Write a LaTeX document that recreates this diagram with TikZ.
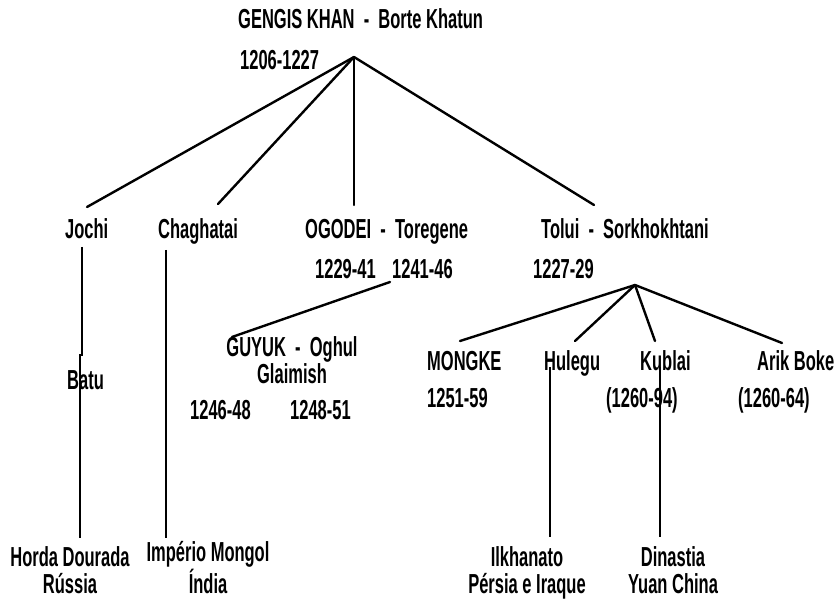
\documentclass[tikz,border=0pt]{standalone}
\usepackage{fontspec}
\setmainfont{Liberation Sans}[FakeStretch=0.6]

\tikzset{
	person/.style={anchor=base west, inner sep=0pt, font=\fontsize{27.5}{27}\selectfont\bfseries},
	realm/.style={anchor=base, inner sep=0pt, align=center, font=\fontsize{27.5}{27}\selectfont\bfseries},
	branch/.style={line width=2.4pt, line cap=round, line join=miter},
}

\begin{document}
\begin{tikzpicture}[x=1pt, y=-1pt]
		\useasboundingbox (0,0) rectangle (840,601);
		% first generation
		\node[person] (gengis) at (238,29) {GENGIS KHAN~~-~~Borte Khatun};
		\node[person] (gengisd) at (240,70) {1206-1227};
		\coordinate (top) at (354,57);
		% sons
		\node[person] (jochi) at (65,239) {Jochi};
		\node[person] (chag) at (158,239) {Chaghatai};
		\node[person] (ogodei) at (305,239) {OGODEI~~-~~Toregene};
		\node[person] (tolui) at (541,239) {Tolui~~-~~Sorkhokhtani};
		\node[person] (ogodeid) at (315,279) {1229-41};
		\node[person] (toregd) at (392,279) {1241-46};
		\node[person] (toluid) at (533,279) {1227-29};
		\coordinate (jochi-in) at (87,207);
		\coordinate (chag-in) at (218,204);
		\coordinate (ogodei-in) at (354,205);
		\coordinate (tolui-in) at (594,205);
		\draw[branch] (top) -- (jochi-in);
		\draw[branch] (top) -- (chag-in);
		\draw[branch] (top) -- (ogodei-in);
		\draw[branch] (top) -- (tolui-in);
		% grandsons
		\node[person] (batu) at (67,389) {Batu};
		\node[realm] (guyuk) at (292,383) {GUYUK~~-~~Oghul\\Glaimish};
		\node[person] (guyukd) at (190,419) {1246-48};
		\node[person] (oghuld) at (290,419) {1248-51};
		\coordinate (ogodei-out) at (390,282);
		\coordinate (guyuk-in) at (232,337);
		\draw[branch] (ogodei-out) -- (guyuk-in);
		\node[person] (mongke) at (427,370) {MONGKE};
		\node[person] (hulegu) at (544,370) {Hulegu};
		\node[person] (kublai) at (640,370) {Kublai};
		\node[person] (arik) at (757,370) {Arik Boke};
		\node[person] (mongked) at (427,407) {1251-59};
		\node[person] (kublaid) at (606,407) {(1260-94)};
		\node[person] (arikd) at (738,407) {(1260-64)};
		\coordinate (tolui-out) at (635,285);
		\coordinate (mongke-in) at (460,341);
		\coordinate (hulegu-in) at (575,341);
		\coordinate (kublai-in) at (655,341);
		\coordinate (arik-in) at (782,343);
		\draw[branch] (tolui-out) -- (mongke-in);
		\draw[branch] (tolui-out) -- (hulegu-in);
		\draw[branch] (tolui-out) -- (kublai-in);
		\draw[branch] (tolui-out) -- (arik-in);
		% khanates
		\node[realm] (horda) at (70,593) {Horda Dourada\\Rússia};
		\node[realm] (imperio) at (208,593) {Império Mongol\\Índia};
		\node[realm] (ilkhan) at (527,593) {Ilkhanato\\Pérsia e Iraque};
		\node[realm] (yuan) at (673,593) {Dinastia\\Yuan China};
		\coordinate (jochi-out) at (82,247);
		\coordinate (horda-in) at (80,538);
		\coordinate (chag-out) at (166,250);
		\coordinate (imperio-in) at (166,538);
		\coordinate (hulegu-out) at (550,367);
		\coordinate (ilkhan-in) at (550,537);
		\coordinate (kublai-out) at (660,367);
		\coordinate (yuan-in) at (660,537);
		\draw[branch, line cap=butt] (jochi-out) -- (82,355) -- (80,355) -- (horda-in);
		\draw[branch, line cap=butt] (chag-out) -- (imperio-in);
		\draw[branch, line cap=butt] (hulegu-out) -- (ilkhan-in);
		\draw[branch, line cap=butt] (kublai-out) -- (yuan-in);
\end{tikzpicture}
\end{document}
